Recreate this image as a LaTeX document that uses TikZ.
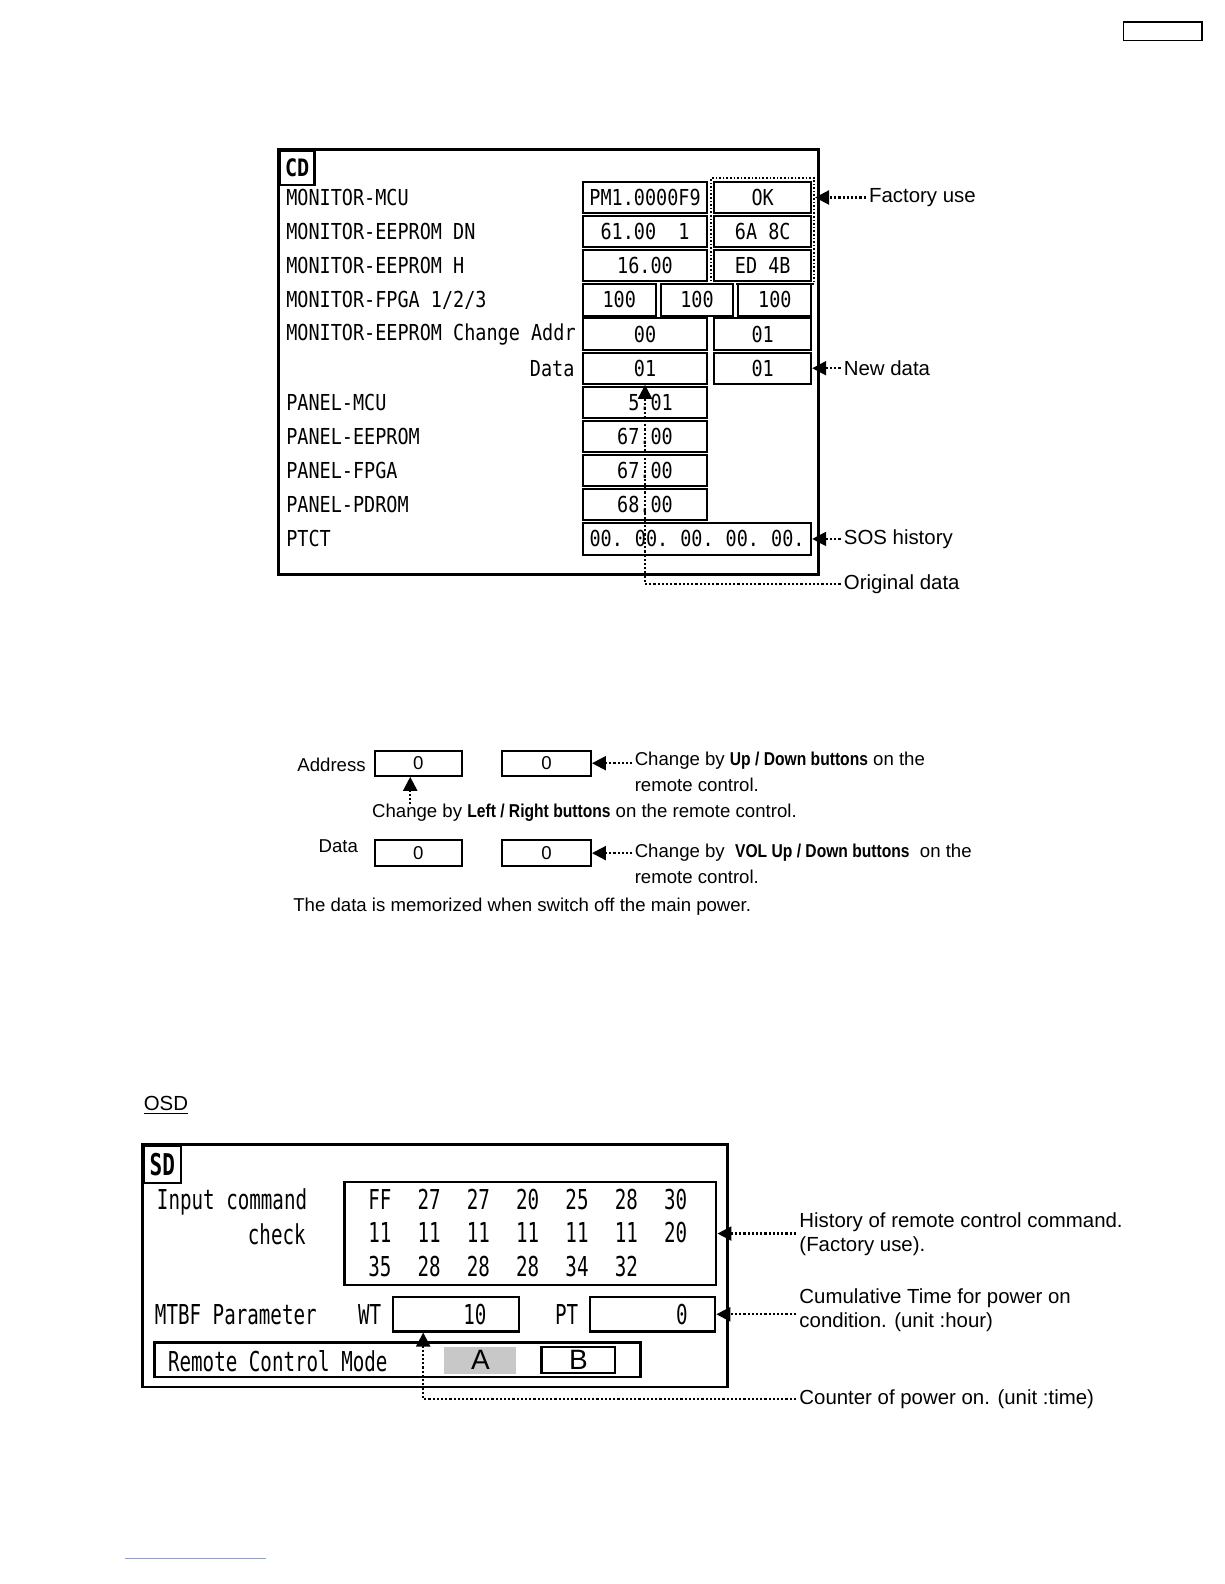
\documentclass[tikz,border=0pt]{standalone}
\usepackage{fontspec}
\setmainfont{Liberation Sans}
\newfontfamily\cdfont[FakeStretch=0.84]{DejaVu Sans Mono}
\newfontfamily\sdfont[FakeStretch=0.70]{DejaVu Sans Mono}
\newfontfamily\narrowfont[FakeStretch=0.84]{Liberation Sans}
\usetikzlibrary{
    positioning,
    calc,
    arrows.meta
}
\definecolor{ModeGray}{HTML}{C8C8C8}
\definecolor{LinkBlue}{HTML}{8C9BE6}

\newdimen\pxu
\pxu=0.50495pt
\newcommand{\cdtext}{\cdfont\fontsize{11}{13}\selectfont}
\newcommand{\sdtext}{\sdfont\fontsize{13.7}{16}\selectfont}
\newcommand{\notetext}{\fontsize{10.2}{12.2}\selectfont}
\newcommand{\keytext}{\fontsize{9.3}{11.3}\selectfont}
\newcommand{\btn}[1]{{\narrowfont\bfseries #1}}
\newcommand{\gap}{\hspace{6pt}}

\tikzset{
    cell/.style={draw, line width=1pt, minimum height=31*\pxu, inner sep=0pt, font=\cdtext},
    panel/.style={draw, line width=1.4pt},
    tag/.style={draw, line width=1.2pt, inner sep=0pt, anchor=north west},
    label/.style={anchor=west, inner sep=0pt},
    note/.style={anchor=west, inner sep=1.5pt, font=\notetext},
    keynote/.style={anchor=west, inner sep=1pt, font=\keytext},
    pointer/.style={densely dotted, line width=1.1pt, -{Triangle[length=7pt,width=7pt]}},
    keybox/.style={draw, line width=1pt, minimum height=25*\pxu, inner sep=0pt, font=\keytext},
    sdbox/.style={draw, line width=1.1pt, inner sep=0pt}
}

\begin{document}
\begin{tikzpicture}[x=\pxu, y=-\pxu]

    \useasboundingbox (0,0) rectangle (1212,1568);
    \draw[line width=0.8pt] (1112,22) rectangle (1190,40);

    % CD screen
    \draw[panel] (276,148) rectangle (810,569);
    \node[
        tag,
        minimum width=34*\pxu,
        minimum height=34*\pxu,
        font={\cdfont\bfseries\fontsize{12}{14}\selectfont}
    ] (cdtag) at (276,148) {CD};

    \foreach \lbl [count=\i from 0] in {MONITOR-MCU, MONITOR-EEPROM DN, MONITOR-EEPROM H, {MONITOR-FPGA 1/2/3}, MONITOR-EEPROM Change Addr}
        \node[label, font=\cdtext] (mlbl\i) at (283,195.5+33.8*\i) {\lbl};
    \node[anchor=east, inner sep=0pt, font=\cdtext] (dlbl) at (569,364.5) {Data};
    \foreach \lbl [count=\i from 6] in {PANEL-MCU, PANEL-EEPROM, PANEL-FPGA, PANEL-PDROM, PTCT}
        \node[label, font=\cdtext] (plbl\i) at (283,195.5+33.8*\i) {\lbl};

    \node[cell, minimum width=123*\pxu] (mcu1) at (638.5,195.5) {PM1.0000F9};
    \node[cell, minimum width=96*\pxu] (mcu2) at (755,195.5) {OK};
    \node[cell, minimum width=123*\pxu] (dn1) at (638.5,229.3) {61.00\ \ 1};
    \node[cell, minimum width=96*\pxu] (dn2) at (755,229.3) {6A 8C};
    \node[cell, minimum width=123*\pxu] (h1) at (638.5,263.1) {16.00};
    \node[cell, minimum width=96*\pxu] (h2) at (755,263.1) {ED 4B};
    \node[cell, minimum width=72*\pxu] (fpga1) at (613,296.9) {100};
    \node[cell, minimum width=72*\pxu] (fpga2) at (690,296.9) {100};
    \node[cell, minimum width=72*\pxu] (fpga3) at (767,296.9) {100};
    \node[cell, minimum width=123*\pxu] (addr1) at (638.5,330.7) {00};
    \node[cell, minimum width=96*\pxu] (addr2) at (755,330.7) {01};
    \node[cell, minimum width=123*\pxu] (data1) at (638.5,364.5) {01};
    \node[cell, minimum width=96*\pxu] (data2) at (755,364.5) {01};
    \node[cell, minimum width=123*\pxu] (pmcu) at (638.5,398.3) {\phantom{0}5.01};
    \node[cell, minimum width=123*\pxu] (peep) at (638.5,432.1) {67.00};
    \node[cell, minimum width=123*\pxu] (pfpga) at (638.5,465.9) {67.00};
    \node[cell, minimum width=123*\pxu] (ppdrom) at (638.5,499.7) {68.00};
    \node[cell, minimum width=226*\pxu] (ptct) at (690,533.5) {00.\gap 00.\gap 00.\gap 00.\gap 00.};

    \node[
        draw,
        densely dotted,
        line width=0.8pt,
        minimum width=102*\pxu,
        minimum height=105*\pxu
    ] (fgroup) at (755,228.5) {};

    \node[note] (factory) at (857,195.5) {Factory use};
    \node[note] (newdata) at (832,364.5) {New data};
    \node[note] (sos) at (832,533.5) {SOS history};
    \node[note] (orig) at (832,578) {Original data};
    \draw[pointer] (factory.west) -- (factory.west -| fgroup.east);
    \draw[pointer] (newdata.west) -- (data2.east);
    \draw[pointer] (sos.west) -- (ptct.east);
    \draw[pointer] (orig.west) -| (data1.south);

    % key assignment
    \node[label, font=\keytext] (addrlbl) at (294,757) {Address};
    \node[keybox, minimum width=86*\pxu] (abox1) at (414,755.5) {0};
    \node[keybox, minimum width=88*\pxu] (abox2) at (541,755.5) {0};
    \node[keynote] (udnote) at (626,753) {Change by \btn{Up / Down buttons} on the};
    \node[keynote] (udnote2) at (626,777) {remote control.};
    \draw[pointer] (udnote.west |- abox2.east) -- (abox2.east);

    \node[label, font=\keytext] (lrnote) at (368,805) {Change by \btn{Left / Right buttons} on the remote control.};
    \coordinate (lrtip) at ([xshift=-4pt]abox1.south);
    \draw[pointer] (lrtip |- lrnote.north) -- (lrtip);

    \node[label, font=\keytext] (datalbl) at (315,838) {Data};
    \node[keybox, minimum width=86*\pxu] (dbox1) at (414,844.5) {0};
    \node[keybox, minimum width=88*\pxu] (dbox2) at (541,844.5) {0};
    \node[keynote] (volnote) at (626,844) {Change by\ \ \btn{VOL Up / Down buttons}\ \ on the};
    \node[keynote] (volnote2) at (626,868) {remote control.};
    \draw[pointer] (volnote.west |- dbox2.east) -- (dbox2.east);

    \node[label, font=\keytext] (memo) at (290,898) {The data is memorized when switch off the main power.};

    % SD screen
    \node[label, font=\notetext] (osdhead) at (142,1094) {\underline{OSD}};
    \draw[panel] (141,1133) rectangle (720,1373);
    \node[
        tag,
        minimum width=37*\pxu,
        minimum height=37*\pxu,
        font={\sdfont\bfseries\fontsize{15}{17}\selectfont}
    ] (sdtag) at (141,1133) {SD};

    \node[label, font=\sdtext] (inlbl) at (155,1190) {Input command};
    \node[anchor=east, inner sep=0pt, font=\sdtext] (checklbl) at (303,1222) {check};
    \node[sdbox, minimum width=368*\pxu, minimum height=102*\pxu, anchor=north west] (cmdbox) at (340,1169) {};
    \foreach \row [count=\r from 0] in {{FF,27,27,20,25,28,30},{11,11,11,11,11,11,20},{35,28,28,28,34,32}}
        \foreach \v [count=\c from 0] in \row
            \node[inner sep=0pt, font=\sdtext] (cmd\r\c) at (376+48.8*\c,1187+33.5*\r) {\v};

    \node[label, font=\sdtext] (mtbf) at (153,1301) {MTBF Parameter};
    \node[label, font=\sdtext] (wtlbl) at (354,1301) {WT};
    \node[sdbox, minimum width=125*\pxu, minimum height=34*\pxu] (wtbox) at (451.5,1301) {};
    \node[inner sep=0pt, font=\sdtext] (wtval) at (470,1301) {10};
    \node[label, font=\sdtext] (ptlbl) at (549,1301) {PT};
    \node[sdbox, minimum width=124*\pxu, minimum height=34*\pxu] (ptbox) at (646,1301) {};
    \node[inner sep=0pt, font=\sdtext] (ptval) at (675,1301) {0};

    \node[sdbox, minimum width=481*\pxu, minimum height=34*\pxu] (modebox) at (393.5,1346) {};
    \node[label, font=\sdtext] (modelbl) at (166,1347) {Remote Control Mode};
    \node[fill=ModeGray, inner sep=0pt, minimum width=71*\pxu, minimum height=27*\pxu, font=\fontsize{14}{16}\selectfont] (modea) at (475.5,1346.5) {A};
    \node[sdbox, minimum width=73*\pxu, minimum height=26*\pxu, font=\fontsize{14}{16}\selectfont] (modeb) at (572.5,1346) {B};

    \node[note] (histnote) at (788,1210) {History of remote control command.};
    \node[note] (histnote2) at (788,1234) {(Factory use).};
    \node[note] (cumnote) at (788,1285) {Cumulative Time for power on};
    \node[note] (cumnote2) at (788,1309) {condition. (unit :hour)};
    \node[note] (cntnote) at (788,1385) {Counter of power on. (unit :time)};
    \coordinate (cnttip) at ($(wtbox.south west)+(31,0)$);
    \draw[pointer] (cmdbox.east -| histnote.west) -- (cmdbox.east);
    \draw[pointer] (ptbox.east -| cumnote.west) -- (ptbox.east);
    \draw[pointer] (cntnote.west) -| (cnttip);

    \draw[LinkBlue, line width=0.5pt] (124,1543) -- (263,1543);

\end{tikzpicture}
\end{document}
